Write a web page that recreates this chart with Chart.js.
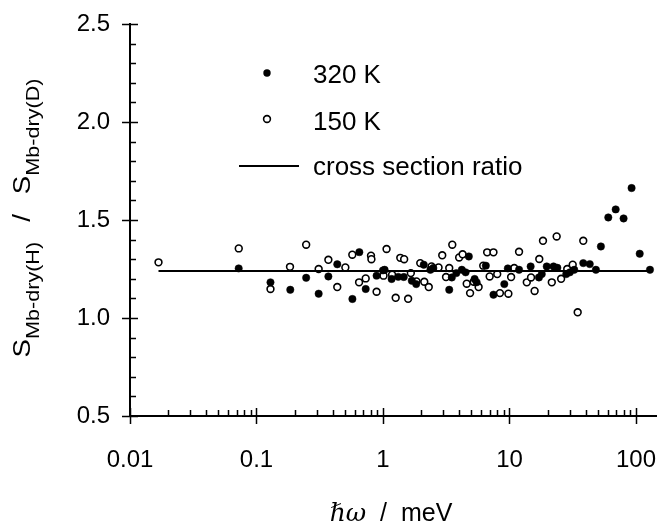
<!DOCTYPE html>
<html>
<head>
<meta charset="utf-8">
<script src="https://cdn.jsdelivr.net/npm/chart.js@4.4.1/dist/chart.umd.min.js"></script>
<style>
    html, body { margin: 0; padding: 0; background: #fff; overflow: hidden; }
    canvas { display: block; }
</style>
</head>
<body>
<!-- a few px wider than the window: the axis runs to the right edge of the picture -->
<canvas id="ratioChart" width="662" height="529"></canvas>
<script>
// Data (energy transfer in meV, ratio)
const hotX = [0.0723, 0.129, 0.185, 0.247, 0.310, 0.370, 0.435, 0.573, 0.65, 0.73, 0.89,
    1.0, 1.03, 1.17, 1.32, 1.46, 1.69, 1.83, 2.1, 2.37, 2.5, 3.34, 3.5, 3.8, 4.2, 4.5, 4.77,
    5.3, 5.5, 6.5, 7.47, 9.1, 9.7, 11.9, 14.7, 17.1, 18.0, 19.7, 22.3, 23.9, 28.1, 30.0, 32.5,
    38.3, 43.1, 48.2, 52.8, 60.4, 69.1, 79.8, 92.3, 107, 129];
const hotY = [1.253, 1.182, 1.144, 1.205, 1.124, 1.212, 1.274, 1.097, 1.336, 1.148, 1.216,
    1.243, 1.246, 1.199, 1.210, 1.209, 1.190, 1.173, 1.272, 1.246, 1.255, 1.144, 1.207, 1.229, 1.246, 1.233, 1.314,
    1.199, 1.182, 1.267, 1.119, 1.173, 1.253, 1.246, 1.263, 1.207, 1.224, 1.263, 1.263, 1.256, 1.224, 1.233, 1.246,
    1.280, 1.275, 1.246, 1.365, 1.513, 1.554, 1.508, 1.663, 1.328, 1.246];

const coldX = [0.0168, 0.0724, 0.129, 0.184, 0.247, 0.310, 0.370, 0.435, 0.504, 0.572, 0.647,
    0.73, 0.804, 0.81, 0.89, 1.01, 1.067, 1.18, 1.26, 1.37, 1.47, 1.58, 1.66, 1.84, 1.97,
    2.12, 2.3, 2.42, 2.75, 2.94, 3.15, 3.34, 3.53, 4.0, 4.26, 4.59, 4.88, 5.21, 5.70, 6.2,
    6.66, 6.97, 7.47, 8.0, 8.4, 9.8, 10.3, 10.9, 11.9, 13.7, 14.8, 15.8, 17.2, 18.4, 21.6,
    23.6, 25.6, 28.6, 31.6, 34.6, 38.3];
const coldY = [1.284, 1.355, 1.148, 1.261, 1.374, 1.250, 1.297, 1.158, 1.258, 1.323, 1.182,
    1.202, 1.318, 1.300, 1.134, 1.216, 1.352, 1.221, 1.103, 1.307, 1.300, 1.098, 1.229, 1.187, 1.280,
    1.185, 1.158, 1.263, 1.258, 1.320, 1.209, 1.255, 1.374, 1.309, 1.325, 1.175, 1.127, 1.185, 1.158, 1.267,
    1.335, 1.212, 1.335, 1.224, 1.127, 1.124, 1.209, 1.255, 1.338, 1.182, 1.207, 1.138, 1.301, 1.394, 1.182,
    1.416, 1.200, 1.250, 1.272, 1.029, 1.394];

// cross section ratio line
const ratioX = [0.0168, 129];
const ratioY = [1.24, 1.24];

const xTicks = [0.01, 0.1, 1, 10, 100];
const xTickLabels = ['0.01', '0.1', '1', '10', '100'];
const yTicks = [0.5, 1.0, 1.5, 2.0, 2.5];

const FONT = '"Liberation Sans", Arial, sans-serif';

function toPoints(xs, ys) {
    return xs.map((x, i) => ({ x: x, y: ys[i] }));
}

// tick marks: majors cross the axis, minors point inwards
const tickPlugin = {
    id: 'tickMarks',
    afterDraw(chart) {
        const ctx = chart.ctx;
        const xs = chart.scales.x;
        const ys = chart.scales.y;
        const area = chart.chartArea;
        ctx.save();
        ctx.strokeStyle = '#000';
        ctx.lineWidth = 1.5;
        ctx.beginPath();
        // y ticks
        for (let v = 5; v <= 25; v++) {
            const py = Math.round(ys.getPixelForValue(v / 10)) + 0.5;
            if (v % 5 === 0) {
                ctx.moveTo(area.left - 8, py);
                ctx.lineTo(area.left + 8, py);
            } else {
                ctx.moveTo(area.left, py);
                ctx.lineTo(area.left + 6, py);
            }
        }
        // x ticks
        for (let d = -2; d <= 2; d++) {
            for (let k = 1; k <= 9; k++) {
                const val = k * Math.pow(10, d);
                if (val > xs.max) continue;
                const px = Math.round(xs.getPixelForValue(val)) + 0.5;
                if (k === 1) {
                    ctx.moveTo(px, area.bottom + 8);
                    ctx.lineTo(px, area.bottom - 8);
                } else {
                    ctx.moveTo(px, area.bottom);
                    ctx.lineTo(px, area.bottom - 6);
                }
            }
        }
        ctx.stroke();
        ctx.restore();
    }
};

// axis titles with sub-scripts and italic symbols
const titlePlugin = {
    id: 'axisTitles',
    afterDraw(chart) {
        const ctx = chart.ctx;
        const area = chart.chartArea;
        ctx.save();
        ctx.fillStyle = '#000';
        ctx.textBaseline = 'alphabetic';

        // y title (text is a bit stretched along its length, like the scan)
        const stretch = 1.2;
        const parts = [
            { t: 'S', size: 23, dy: 0, gap: 0 },
            { t: 'Mb-dry(H)', size: 18, dy: 9, gap: 0 },
            { t: '/', size: 23, dy: 0, gap: 20 },
            { t: 'S', size: 23, dy: 0, gap: 0 },
            { t: 'Mb-dry(D)', size: 18, dy: 9, gap: 0 }
        ];
        let total = 0;
        parts.forEach(p => {
            ctx.font = p.size + 'px ' + FONT;
            p.w = ctx.measureText(p.t).width * stretch + 2 * p.gap;
            total += p.w;
        });
        ctx.translate(30, (area.top + area.bottom) / 2 - 2);
        ctx.rotate(-Math.PI / 2);
        let cx = -total / 2;
        parts.forEach(p => {
            ctx.save();
            ctx.font = p.size + 'px ' + FONT;
            ctx.translate(cx + p.gap, p.dy);
            ctx.scale(stretch, 1);
            ctx.fillText(p.t, 0, 0);
            ctx.restore();
            cx += p.w;
        });
        ctx.setTransform(1, 0, 0, 1, 0, 0);

        // x title
        const xa = [
            { t: 'ℏω', font: 'italic 25px "DejaVu Serif", serif' },
            { t: '  /  meV', font: '25px ' + FONT }
        ];
        let tw = 0;
        xa.forEach(p => { ctx.font = p.font; p.w = ctx.measureText(p.t).width; tw += p.w; });
        let sx = 391 - tw / 2;
        xa.forEach(p => {
            ctx.font = p.font;
            ctx.fillText(p.t, sx, 521);
            sx += p.w;
        });
        ctx.restore();
    }
};

// legend drawn inside the plot area, upper left
const legendPlugin = {
    id: 'innerLegend',
    afterDraw(chart) {
        const ctx = chart.ctx;
        ctx.save();
        ctx.fillStyle = '#000';
        ctx.strokeStyle = '#000';
        ctx.font = '26px ' + FONT;
        ctx.textBaseline = 'alphabetic';

        ctx.beginPath();
        ctx.arc(267, 73, 3.7, 0, Math.PI * 2);
        ctx.fill();
        ctx.fillText('320 K', 313, 83);

        ctx.beginPath();
        ctx.lineWidth = 1.6;
        ctx.fillStyle = '#fff';
        ctx.arc(267, 119, 3.4, 0, Math.PI * 2);
        ctx.fill();
        ctx.stroke();
        ctx.fillStyle = '#000';
        ctx.fillText('150 K', 313, 130);

        ctx.beginPath();
        ctx.lineWidth = 2;
        ctx.moveTo(239, 166);
        ctx.lineTo(299, 166);
        ctx.stroke();
        ctx.fillText('cross section ratio', 313, 175);
        ctx.restore();
    }
};

const ctx = document.getElementById('ratioChart').getContext('2d');
new Chart(ctx, {
    type: 'scatter',
    data: {
        datasets: [
            {
                label: 'cross section ratio',
                data: toPoints(ratioX, ratioY),
                showLine: true,
                borderColor: '#000',
                borderWidth: 2,
                pointRadius: 0
            },
            {
                label: '320 K',
                data: toPoints(hotX, hotY),
                pointRadius: 3.7,
                pointBackgroundColor: '#000',
                pointBorderColor: '#000',
                pointBorderWidth: 0.5
            },
            {
                label: '150 K',
                data: toPoints(coldX, coldY),
                pointRadius: 3.4,
                pointBackgroundColor: '#fff',
                pointBorderColor: '#000',
                pointBorderWidth: 1.6
            }
        ]
    },
    options: {
        responsive: false,
        animation: false,
        layout: { padding: { top: 24, right: 1, left: 0, bottom: 0 } },
        plugins: {
            legend: { display: false },
            tooltip: { enabled: false }
        },
        scales: {
            x: {
                type: 'logarithmic',
                min: 0.01,
                max: 145,
                grid: { display: false, drawTicks: false, tickLength: 0 },
                border: { display: true, color: '#000', width: 2 },
                afterBuildTicks: (scale) => {
                    scale.ticks = xTicks.map(v => ({ value: v }));
                },
                afterFit: (scale) => {
                    scale.height = 113;
                    scale.paddingLeft = 0;
                    scale.paddingRight = 0;
                },
                ticks: {
                    color: '#000',
                    font: { family: FONT, size: 24 },
                    padding: 30,
                    maxRotation: 0,
                    autoSkip: false,
                    callback: (v) => {
                        const i = xTicks.indexOf(v);
                        return i >= 0 ? xTickLabels[i] : '';
                    }
                }
            },
            y: {
                min: 0.5,
                max: 2.5,
                grid: { display: false, drawTicks: false, tickLength: 0 },
                border: { display: true, color: '#000', width: 2 },
                afterBuildTicks: (scale) => {
                    scale.ticks = yTicks.map(v => ({ value: v }));
                },
                afterFit: (scale) => {
                    scale.width = 130;
                    scale.paddingTop = 0;
                    scale.paddingBottom = 0;
                },
                ticks: {
                    color: '#000',
                    font: { family: FONT, size: 24 },
                    padding: 20,
                    callback: (v) => v.toFixed(1)
                }
            }
        }
    },
    plugins: [tickPlugin, titlePlugin, legendPlugin]
});
</script>
</body>
</html>
